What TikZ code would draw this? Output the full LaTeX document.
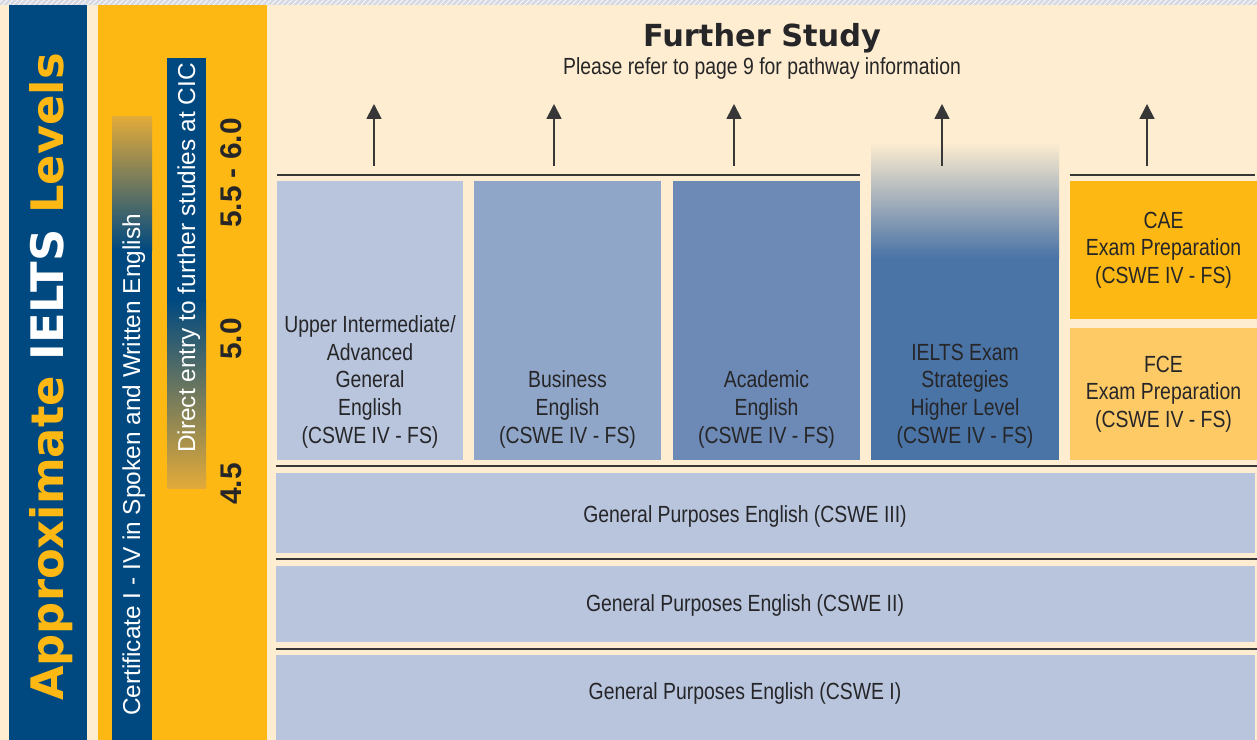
\documentclass[tikz,border=0pt]{standalone}
\usepackage{fontspec}
\setmainfont{Liberation Sans}
\newfontfamily\narrowsans[FakeStretch=0.83]{Liberation Sans}
\newfontfamily\heavysans{DejaVu Sans}
\usepackage{xcolor}
\usetikzlibrary{arrows.meta,positioning,calc,patterns}

\definecolor{cream}{RGB}{254,237,208}
\definecolor{cicblue}{RGB}{0,73,128}
\definecolor{cicyellow}{RGB}{253,184,19}
\definecolor{paleyellow}{RGB}{254,202,102}
\definecolor{blueA}{RGB}{184,197,221}
\definecolor{blueB}{RGB}{144,166,200}
\definecolor{blueC}{RGB}{109,137,181}
\definecolor{blueD}{RGB}{74,115,166}
\definecolor{inkgray}{RGB}{38,38,40}
\definecolor{rulegray}{RGB}{55,55,55}
\definecolor{fadegold}{RGB}{226,170,58}
\definecolor{fadegray}{RGB}{120,118,110}
\definecolor{stripgray}{RGB}{214,216,226}

\begin{document}
\begin{tikzpicture}[
    x=0.02cm, y=-0.02cm,
    coursebox/.style={rectangle, inner sep=0, minimum width=3.74cm, minimum height=5.58cm},
    exambox/.style={rectangle, inner sep=0, minimum width=3.74cm, align=center, text=inkgray, font=\narrowsans\fontsize{13.3}{15.7}\selectfont},
    levelbox/.style={rectangle, inner sep=0, fill=blueA, minimum width=19.58cm},
    coursetext/.style={inner sep=0, align=center, text=inkgray, font=\narrowsans\fontsize{13.3}{15.7}\selectfont},
    rule/.style={draw=rulegray, line width=1.1pt},
    uparrow/.style={-{Triangle[width=0.3cm,length=0.3cm]}, draw=rulegray, line width=1pt},
    sidetext/.style={rotate=90, anchor=base, inner sep=0, text=white, font=\fontsize{13.9}{16}\selectfont},
    score/.style={rotate=90, anchor=base, inner sep=0, text=inkgray, font=\bfseries\fontsize{17}{20}\selectfont}
]
\useasboundingbox (0,0) rectangle (1257,740);

% background and side bars
\fill[cream] (0,0) rectangle (1257,740);
\fill[stripgray] (0,0) rectangle (1257,5);
\fill[pattern=north east lines, pattern color=white] (0,0) rectangle (1257,5);
\fill[cicblue] (9,5) rectangle (87,740);
\fill[cicyellow] (98,5) rectangle (267,740);

\shade[top color=fadegold, middle color=fadegray, bottom color=cicblue] (112,117) rectangle (152,250);
\fill[cicblue] (112,249) rectangle (152,740);
\fill[cicblue] (167,58) rectangle (206,301);
\shade[top color=cicblue, middle color=fadegray, bottom color=fadegold] (167,300) rectangle (206,488);

\node[rotate=90, anchor=base, inner sep=0, font=\heavysans\bfseries\fontsize{25.5}{30}\selectfont] (title) at (63,377)
    {\textcolor{cicyellow}{Approximate} \textcolor{white}{IELTS} \textcolor{cicyellow}{Levels}};
\node[sidetext] (cert) at (140,465) {Certificate I - IV in Spoken and Written English};
\node[sidetext] (entry) at (195,258) {Direct entry to further studies at CIC};

\node[score] (s6) at (241,173) {5.5 - 6.0};
\node[score] (s5) at (241,339) {5.0};
\node[score] (s4) at (241,484) {4.5};

% heading
\node[anchor=base, inner sep=0, text=inkgray, font=\heavysans\bfseries\fontsize{17.3}{20}\selectfont] (further) at (762,47) {Further Study};
\node[anchor=base, coursetext] (note) at (762,75) {Please refer to page 9 for pathway information};

% course columns
\node[coursebox, fill=blueA] (c1) at (370,320.5) {};
\node[coursebox, fill=blueB] (c2) at (567.5,320.5) {};
\node[coursebox, fill=blueC] (c3) at (766.5,320.5) {};
\node[coursebox, fill=blueD, minimum width=3.76cm] (c4) at (965,320.5) {};
\shade[top color=cream, middle color={rgb,255:red,176;green,182;blue,198}, bottom color=blueD] (871,142) rectangle (1059,258);

\node[exambox, fill=cicyellow, minimum height=2.76cm] (cae) at (1163.5,250) {CAE\\Exam Preparation\\(CSWE IV - FS)};
\node[exambox, fill=paleyellow, minimum height=2.64cm] (fce) at (1163.5,394) {FCE\\Exam Preparation\\(CSWE IV - FS)};

\node[coursetext, above=0.24cm of c1.south] (t1) {Upper Intermediate/\\Advanced\\General\\English\\(CSWE IV - FS)};
\node[coursetext, above=0.24cm of c2.south] (t2) {Business\\English\\(CSWE IV - FS)};
\node[coursetext, above=0.24cm of c3.south] (t3) {Academic\\English\\(CSWE IV - FS)};
\node[coursetext, above=0.24cm of c4.south] (t4) {IELTS Exam\\Strategies\\Higher Level\\(CSWE IV - FS)};

% general purposes levels
\node[levelbox, minimum height=1.6cm] (gp3) at (765.5,513) {};
\node[levelbox, minimum height=1.52cm] (gp2) at (765.5,604) {};
\node[levelbox, minimum height=1.7cm] (gp1) at (765.5,697.5) {};
\node[coursetext] (l3) at (745,516) {General Purposes English (CSWE III)};
\node[coursetext] (l2) at (745,605) {General Purposes English (CSWE II)};
\node[coursetext] (l1) at (745,693) {General Purposes English (CSWE I)};

% rules
\draw[rule] (277,175) -- (860,175);
\draw[rule] (1070,175) -- (1255,175);
\foreach \y in {466,559,649}
    \draw[rule] (276,\y) -- (1257,\y);

% arrows to further study
\foreach \x [count=\i] in {374,554,734,942,1147} {
    \coordinate (from\i) at (\x,166);
    \coordinate (to\i) at (\x,104);
    \draw[uparrow] (from\i) -- (to\i);
}
\end{tikzpicture}
\end{document}
